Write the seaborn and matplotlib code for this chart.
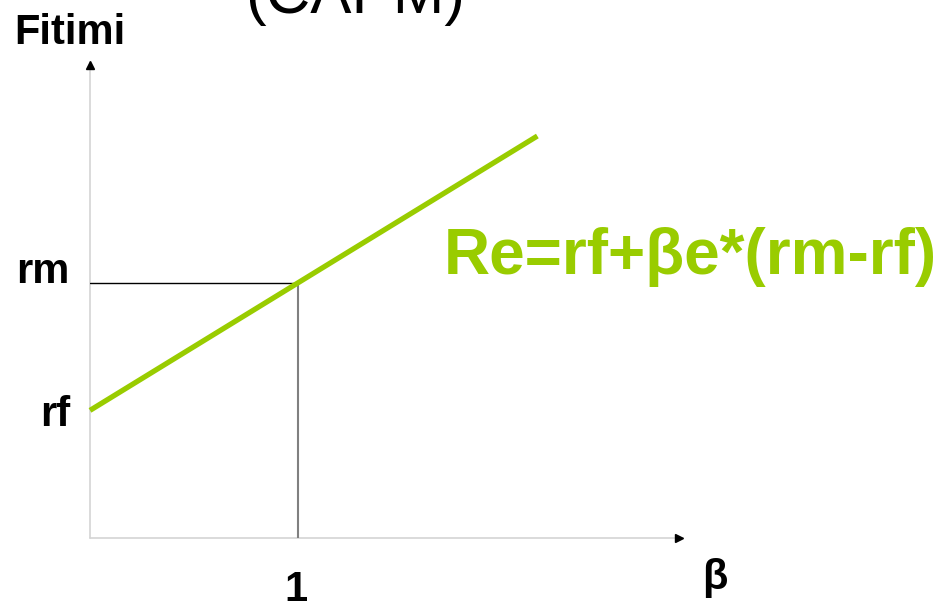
import numpy as np
import pandas as pd
import seaborn as sns
import matplotlib.pyplot as plt

# values (units: beta on x, return on y)
rf = 1.0
rm = 2.0
beta_market = 1.0
beta_vals = [0.0, 2.15]
return_vals = [1.0, 3.15]
x_max = 2.85
y_max = 3.73

sml_color = '#99cc00'

sns.set_style('white')
plt.rcParams['font.family'] = ['Liberation Sans', 'DejaVu Sans']
plt.rcParams['text.color'] = 'black'

fig = plt.figure(figsize=(9.43, 6.08), dpi=100)
W, H = 943, 608
ax = fig.add_axes([90 / W, 70 / H, 593 / W, 476 / H])
ax.set_xlim(0, x_max)
ax.set_ylim(0, y_max)
ax.axis('off')

df = pd.DataFrame({'beta': beta_vals, 'ret': return_vals})
sns.lineplot(data=df, x='beta', y='ret', color=sml_color, lw=3.8, ax=ax,
             solid_capstyle='butt', clip_on=False, zorder=4)

# guide lines to the market point
ax.plot([0, beta_market], [rm, rm], color='black', lw=1, zorder=3)
ax.plot([beta_market, beta_market], [0, rm], color='#808080', lw=1.5, zorder=3)

# axes with arrow heads
ax.plot([0, x_max], [0, 0], color='#d4d4d4', lw=1.2, clip_on=False, zorder=2)
ax.plot([0, 0], [0, y_max], color='#d4d4d4', lw=1.2, clip_on=False, zorder=2)
ax.plot([x_max - 0.02], [0], marker='>', color='black', ms=6, clip_on=False)
ax.plot([0], [y_max - 0.02], marker='^', color='black', ms=6, clip_on=False)

# labels
fig.text(70 / W, 1 - 33 / H, 'Fitimi', fontsize=30, fontweight='bold',
         ha='center', va='center')
fig.text(355 / W, 1 - 13 / H, '(CAPM)', fontsize=44.5,
         ha='center', va='baseline')
fig.text(43 / W, 1 - 272 / H, 'rm', fontsize=30, fontweight='bold',
         ha='center', va='center')
fig.text(55 / W, 1 - 415 / H, 'rf', fontsize=30, fontweight='bold',
         ha='center', va='center')
fig.text(296 / W, 1 - 590 / H, '1', fontsize=30, fontweight='bold',
         ha='center', va='center')
fig.text(715 / W, 1 - 578 / H, 'β', fontsize=30, fontweight='bold',
         ha='center', va='center')
fig.text(690 / W, 1 - 274 / H, 'Re=rf+βe*(rm-rf)', fontsize=46,
         fontweight='bold', color=sml_color, ha='center', va='baseline')

fig.savefig('out.png', dpi=100)
